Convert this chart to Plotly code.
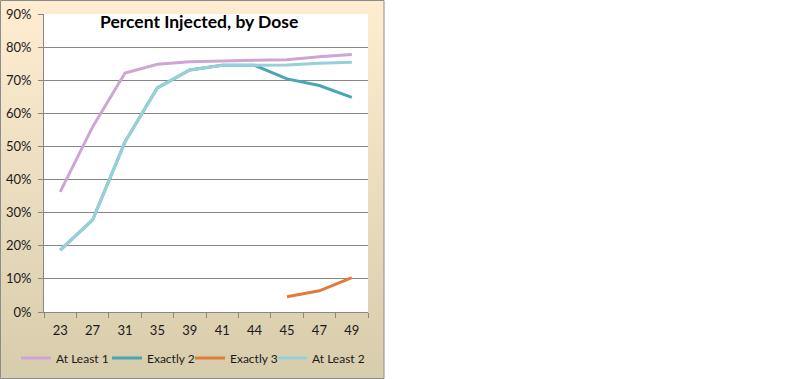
import base64
import plotly.graph_objects as go

categories = ["23", "27", "31", "35", "39", "41", "44", "45", "47", "49"]
at_least_1 = [0.363, 0.559, 0.722, 0.748, 0.756, 0.758, 0.760, 0.762, 0.771, 0.778]
exactly_2 = [0.187, 0.278, 0.514, 0.677, 0.731, 0.745, 0.745, 0.704, 0.684, 0.648]
exactly_3 = [None, None, None, None, None, None, None, 0.046, 0.064, 0.104]
at_least_2 = [0.187, 0.278, 0.514, 0.677, 0.731, 0.745, 0.745, 0.746, 0.751, 0.754]

series_names = ["At Least 1", "Exactly 2", "Exactly 3", "At Least 2"]
series_colors = ["#CDA6D6", "#4AA6B2", "#E07B3C", "#97D0D6"]

W, H = 789, 379
L, R, T, B = 44, 368, 14, 312  # plot area pixel box
pw, ph = R - L, B - T

def px_x(x):
    return (x - L) / pw

def px_y(y):
    return (B - y) / ph

svg = ('<svg xmlns="http://www.w3.org/2000/svg" width="100" height="100" preserveAspectRatio="none">'
       '<defs><linearGradient id="g" x1="0" y1="0" x2="0" y2="1">'
       '<stop offset="0" stop-color="#FFEDD2"/><stop offset="1" stop-color="#D7CCAC"/>'
       '</linearGradient></defs><rect width="100" height="100" fill="url(#g)"/></svg>')
src = "data:image/svg+xml;base64," + base64.b64encode(svg.encode()).decode()

legend_ids = ["legend", "legend2", "legend3", "legend4"]
legend_px = [16, 107, 190, 272]

fig = go.Figure()
for name, vals, col, lid in zip(series_names, [at_least_1, exactly_2, exactly_3, at_least_2],
                                series_colors, legend_ids):
    fig.add_trace(go.Scatter(x=categories, y=vals, name=name, mode="lines", legend=lid,
                             line=dict(color=col, width=3), connectgaps=False))

bx0, bx1 = px_x(0.5), px_x(384)
by0, by1 = px_y(378.5), px_y(0.5)

legends = {}
for lid, lx in zip(legend_ids, legend_px):
    legends[lid] = dict(orientation="h", x=px_x(lx), y=px_y(358), xanchor="left", yanchor="middle",
                        font=dict(size=12), itemwidth=30, bgcolor="rgba(0,0,0,0)")

fig.update_layout(
    width=W, height=H,
    margin=dict(l=L, r=W - R, t=T, b=H - B, autoexpand=False),
    paper_bgcolor="white",
    plot_bgcolor="rgba(0,0,0,0)",
    font=dict(family="Lato", size=13, color="#1a1a1a"),
    showlegend=True,
    images=[dict(source=src, xref="paper", yref="paper", x=bx0, y=by1,
                 sizex=bx1 - bx0, sizey=by1 - by0, sizing="stretch", layer="below")],
    shapes=[
        dict(type="rect", xref="paper", yref="paper", x0=0, x1=1, y0=0, y1=1,
             fillcolor="white", line=dict(width=0), layer="below"),
        dict(type="rect", xref="paper", yref="paper", x0=bx0, x1=bx1, y0=by0, y1=by1,
             line=dict(color="#8C8C8C", width=1), layer="above"),
    ],
    annotations=[dict(text="<b>Percent Injected, by Dose</b>", xref="paper", yref="paper",
                      x=px_x(199), y=px_y(22), xanchor="center", yanchor="middle",
                      showarrow=False, font=dict(size=17.5, color="black"))],
    **legends,
)
fig.update_xaxes(type="category", showline=True, linecolor="#868686", linewidth=1,
                 ticks="outside", ticklen=5, tickcolor="#868686", tickson="boundaries",
                 showgrid=False, range=[-0.5, 9.5], fixedrange=True, automargin=False,
                 ticklabelstandoff=6)
fig.update_yaxes(range=[0, 0.9], dtick=0.1, tickformat=".0%", showline=True,
                 linecolor="#868686", linewidth=1, ticks="outside", ticklen=5,
                 tickcolor="#868686", showgrid=True, gridcolor="#868686", gridwidth=1,
                 zeroline=False, fixedrange=True, automargin=False, ticklabelstandoff=4)

fig.write_html("out.html", config={"displayModeBar": False},
               post_script="document.body.style.margin='0';")
